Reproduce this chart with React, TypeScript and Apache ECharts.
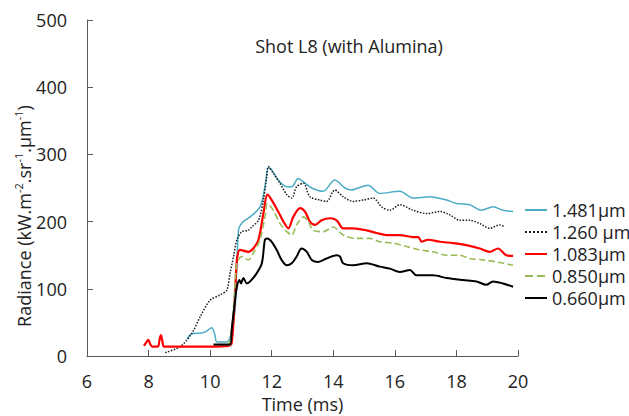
import React, { useEffect, useRef } from "react";
import * as echarts from "echarts";

const FONT = "Open Sans";
const TEXT = "#222222";
const AXIS = "#595959";

const seriesNames = ["1.481µm", "1.260 µm", "1.083µm", "0.850µm", "0.660µm"];
const xTicks = { min: 6, max: 20, interval: 2 };
const yTicks = { min: 0, max: 500, interval: 100 };

const s1481: [number, number][] = [
  [9.25, 25], [9.4, 33], [9.67, 34], [9.85, 36], [10.05, 42], [10.15, 32], [10.22, 21],
  [10.54, 21], [10.7, 36], [10.81, 68], [10.92, 187], [11.03, 198], [11.3, 207], [11.62, 222],
  [11.78, 252], [11.89, 280], [12.0, 277], [12.21, 262], [12.49, 252], [12.65, 252], [12.86, 264],
  [13.03, 259], [13.3, 250], [13.67, 245], [14.05, 262], [14.38, 250], [14.6, 247], [14.81, 250],
  [15.13, 254], [15.51, 242], [16.16, 245], [16.59, 235], [17.14, 237], [17.68, 232], [18.0, 227],
  [18.43, 225], [18.81, 217], [19.19, 222], [19.51, 217], [19.84, 215],
];

const s1260: [number, number][] = [
  [8.54, 5], [9.03, 14], [9.41, 34], [9.67, 58], [10.0, 83], [10.33, 91], [10.54, 98],
  [10.65, 124], [10.76, 148], [10.87, 173], [11.03, 185], [11.24, 187], [11.35, 192], [11.57, 202],
  [11.73, 232], [11.84, 267], [11.89, 282], [12.05, 272], [12.27, 257], [12.49, 240], [12.65, 235],
  [12.81, 252], [13.03, 257], [13.24, 237], [13.57, 232], [13.78, 230], [14.05, 247], [14.32, 237],
  [14.65, 230], [14.97, 232], [15.3, 235], [15.57, 222], [15.84, 217], [16.16, 225], [16.59, 217],
  [17.03, 212], [17.46, 215], [17.79, 210], [18.11, 202], [18.43, 202], [18.76, 197], [19.08, 190],
  [19.41, 195], [19.57, 192],
];

const s1083: [number, number][] = [
  [7.85, 15], [7.92, 20], [7.99, 24], [8.06, 17], [8.12, 14], [8.3, 14], [8.36, 25], [8.4, 31],
  [8.45, 22], [8.5, 14], [9.0, 14], [10.0, 14], [10.6, 15], [10.7, 19], [10.81, 93], [10.87, 143],
  [10.97, 158], [11.24, 155], [11.4, 160], [11.57, 173], [11.73, 212], [11.86, 240], [12.0, 232],
  [12.21, 215], [12.38, 200], [12.54, 190], [12.7, 207], [12.92, 220], [13.08, 215], [13.24, 200],
  [13.41, 195], [13.62, 202], [13.89, 205], [14.11, 202], [14.32, 190], [14.65, 190], [15.08, 187],
  [15.41, 183], [15.73, 180], [16.16, 180], [16.59, 177], [16.76, 177], [16.87, 170], [17.08, 173],
  [17.46, 170], [17.89, 168], [18.32, 165], [18.76, 160], [19.08, 155], [19.35, 160], [19.62, 150],
  [19.84, 149],
];

const s0850: [number, number][] = [
  [10.6, 15], [10.7, 40], [10.8, 100], [10.87, 138], [11.03, 148], [11.24, 143], [11.4, 153],
  [11.62, 173], [11.78, 207], [11.86, 227], [12.05, 217], [12.27, 197], [12.49, 185], [12.65, 180],
  [12.81, 195], [13.03, 207], [13.19, 200], [13.35, 187], [13.67, 185], [14.0, 192], [14.32, 180],
  [14.76, 175], [15.19, 175], [15.51, 170], [15.95, 168], [16.38, 163], [16.81, 158], [17.24, 155],
  [17.68, 150], [18.11, 150], [18.43, 145], [18.86, 143], [19.3, 140], [19.84, 135],
];

const s0660: [number, number][] = [
  [10.11, 17], [10.65, 17], [10.7, 39], [10.76, 64], [10.81, 83], [10.87, 103], [10.95, 113],
  [11.0, 108], [11.08, 116], [11.19, 108], [11.3, 111], [11.51, 123], [11.68, 138], [11.78, 173],
  [11.86, 175], [12.0, 170], [12.16, 158], [12.32, 143], [12.49, 135], [12.65, 138], [12.81, 148],
  [12.97, 160], [13.14, 155], [13.3, 143], [13.51, 140], [13.78, 145], [14.11, 150], [14.22, 148],
  [14.32, 138], [14.65, 135], [15.08, 138], [15.51, 133], [15.84, 130], [16.16, 125], [16.49, 128],
  [16.7, 120], [17.24, 120], [17.68, 116], [18.22, 113], [18.65, 111], [18.97, 106], [19.19, 111],
  [19.51, 108], [19.84, 103],
];

const seriesData = [s1481, s1260, s1083, s0850, s0660];
const seriesColors = ["#4bacc6", "#1a1a1a", "#ff0000", "#9bbb59", "#000000"];
const seriesWidths = [1.5, 1.5, 2.2, 1.6, 2];
const seriesTypes = ["solid", "dotted", "solid", "dashed", "solid"];

export default function App() {
  const ref = useRef<HTMLDivElement>(null);
  useEffect(() => {
    if (!ref.current) return;
    const chart = echarts.init(ref.current, null, { renderer: "svg" });
    const axisCommon = {
      type: "value" as const,
      axisLine: { show: true, lineStyle: { color: AXIS, width: 1 } },
      axisTick: { show: true, inside: true, length: 6, lineStyle: { color: AXIS } },
      splitLine: { show: false },
    };
    chart.setOption({
      animation: false,
      backgroundColor: "#ffffff",
      title: {
        text: "Shot L8 (with Alumina)",
        left: 344,
        top: 32,
        textAlign: "center",
        textStyle: { fontFamily: FONT, fontSize: 18, fontWeight: "normal", color: TEXT },
      },
      grid: { left: 87, right: 111, top: 20, bottom: 60, outerBoundsMode: "none", containLabel: false },
      legend: {
        orient: "vertical",
        left: 524,
        top: 201,
        padding: 0,
        itemWidth: 22,
        itemHeight: 10,
        itemGap: 4,
        data: seriesNames,
        itemStyle: { opacity: 0 },
        textStyle: { fontFamily: FONT, fontSize: 18, color: TEXT, lineHeight: 18 },
      },
      xAxis: {
        ...axisCommon,
        ...xTicks,
        name: "Time (ms)",
        nameLocation: "middle",
        nameGap: 37,
        nameTextStyle: { fontFamily: FONT, fontSize: 18, color: TEXT },
        axisLabel: { fontFamily: FONT, fontSize: 18, color: TEXT, margin: 16 },
      },
      yAxis: {
        ...axisCommon,
        ...yTicks,
        axisLabel: { fontFamily: FONT, fontSize: 18, color: TEXT, margin: 20 },
      },
      graphic: [
        {
          type: "text",
          x: 24,
          y: 216,
          rotation: Math.PI / 2,
          style: {
            text: "{b|Radiance (kW.m}{s|-2}{b|.sr}{s|-1}{b|.µm}{s|-1}{b|)}",
            align: "center",
            verticalAlign: "middle",
            rich: {
              b: { fontFamily: FONT, fontSize: 18, fill: TEXT, lineHeight: 22 },
              s: { fontFamily: FONT, fontSize: 11, fill: TEXT, lineHeight: 12, verticalAlign: "top" },
            },
          },
        },
      ],
      series: seriesNames.map((name, i) => ({
        name,
        type: "line",
        data: seriesData[i],
        showSymbol: false,
        symbol: "none",
        smooth: 0.3,
        z: 2 + i,
        lineStyle: { color: seriesColors[i], width: seriesWidths[i], type: seriesTypes[i] },
        itemStyle: { color: seriesColors[i] },
      })),
    });
    return () => chart.dispose();
  }, []);
  return (
    <div
      ref={ref}
      style={{ position: "fixed", left: 0, top: 0, width: 629, height: 416, background: "#fff" }}
    />
  );
}
